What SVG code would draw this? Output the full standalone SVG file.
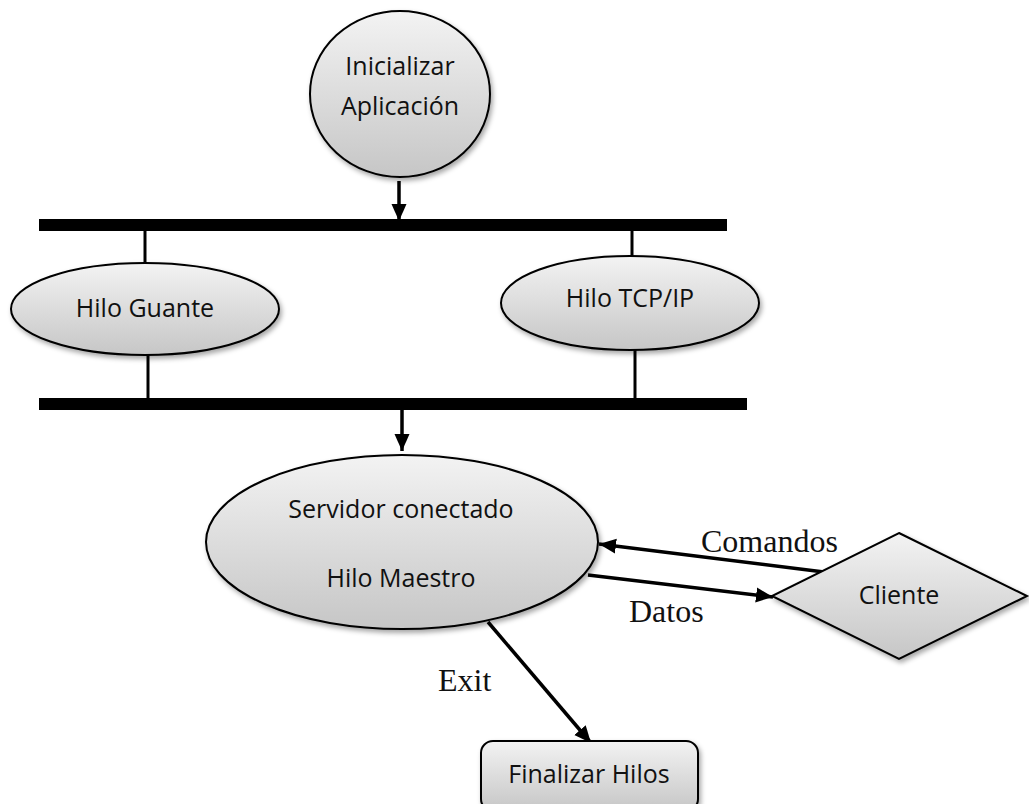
<svg xmlns="http://www.w3.org/2000/svg" width="1029" height="804" viewBox="0 0 1029 804">
  <defs>
    <linearGradient id="fillGrad" x1="0" y1="0" x2="0" y2="1">
      <stop offset="0" stop-color="#f3f3f3"/>
      <stop offset="1" stop-color="#c6c6c6"/>
    </linearGradient>
    <filter id="shadow" x="-10%" y="-10%" width="125%" height="130%">
      <feDropShadow dx="2" dy="3" stdDeviation="2.5" flood-color="#000" flood-opacity="0.35"/>
    </filter>
    <marker id="arrow" markerUnits="userSpaceOnUse" markerWidth="20" markerHeight="18" refX="17" refY="9" orient="auto">
      <path d="M0,1.5 L17,9 L0,16.5 Z" fill="#000"/>
    </marker>
  </defs>
  <style>
    .node { fill: url(#fillGrad); stroke: #000; stroke-width: 2; filter: url(#shadow); }
    .label { font-family: "Open Sans", "Liberation Sans", sans-serif; font-size: 25px; fill: #111; text-anchor: middle; }
    .edge-label { font-family: "Liberation Serif", serif; font-size: 32px; fill: #111; }
    .bar { fill: #000; }
    .link { stroke: #000; stroke-width: 3; fill: none; }
    .arrow { stroke: #000; stroke-width: 3.5; fill: none; marker-end: url(#arrow); }
  </style>

  <!-- synchronisation bars -->
  <g id="bars">
    <rect class="bar" x="39" y="219" width="688" height="12"/>
    <rect class="bar" x="39" y="398" width="708" height="12"/>
  </g>

  <!-- connectors -->
  <g id="connectors">
    <line class="arrow" x1="399" y1="181" x2="399" y2="221"/>
    <line class="link" x1="145" y1="231" x2="145" y2="264"/>
    <line class="link" x1="632" y1="231" x2="632" y2="256"/>
    <line class="link" x1="148" y1="355" x2="148" y2="399"/>
    <line class="link" x1="635" y1="350" x2="635" y2="399"/>
    <line class="arrow" x1="402" y1="410" x2="402" y2="451"/>
    <line class="arrow" x1="824" y1="572" x2="599" y2="544"/>
    <line class="arrow" x1="588" y1="575" x2="773" y2="597"/>
    <line class="arrow" x1="488" y1="622" x2="591" y2="743"/>
    <text class="edge-label" x="701" y="552">Comandos</text>
    <text class="edge-label" x="629" y="622">Datos</text>
    <text class="edge-label" x="438" y="691">Exit</text>
  </g>

  <g id="inicializar">
    <ellipse class="node" cx="400" cy="94" rx="90" ry="83"/>
    <text class="label" x="400" y="75">Inicializar</text>
    <text class="label" x="400" y="115">Aplicación</text>
  </g>

  <g id="hilo-guante">
    <ellipse class="node" cx="145" cy="309" rx="134" ry="46"/>
    <text class="label" x="145" y="317">Hilo Guante</text>
  </g>

  <g id="hilo-tcp">
    <ellipse class="node" cx="630" cy="303" rx="129" ry="47"/>
    <text class="label" x="630" y="307">Hilo TCP/IP</text>
  </g>

  <g id="servidor">
    <ellipse class="node" cx="402" cy="542" rx="196" ry="87"/>
    <text class="label" x="401" y="518">Servidor conectado</text>
    <text class="label" x="401" y="587">Hilo Maestro</text>
  </g>

  <g id="cliente">
    <polygon class="node" points="899,533 1027,596 899,659 772,596"/>
    <text class="label" x="899" y="604">Cliente</text>
  </g>

  <g id="finalizar">
    <rect class="node" x="481" y="741" width="217" height="70" rx="12" ry="12"/>
    <text class="label" x="589" y="783">Finalizar Hilos</text>
  </g>
</svg>
